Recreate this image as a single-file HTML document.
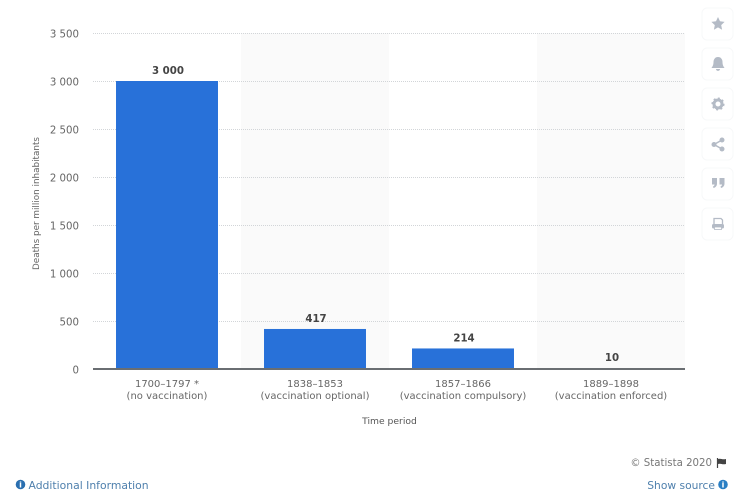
<!DOCTYPE html>
<html>
<head>
<meta charset="utf-8">
<style>
html,body{margin:0;padding:0;background:#fff;width:736px;height:504px;overflow:hidden}
svg{display:block;font-family:"DejaVu Sans","Liberation Sans",sans-serif;filter:blur(0.3px)}
</style>
</head>
<body>
<svg id="chart" width="736" height="504" viewBox="0 0 736 504" xmlns="http://www.w3.org/2000/svg">
  <g id="bands"></g>
  <g id="grid"></g>
  <g id="yticks"></g>
  <g id="bars"></g>
  <g id="values"></g>
  <line x1="93" x2="685" y1="369" y2="369" stroke="#6a6e72" stroke-width="2"/>
  <g id="xticks"></g>
  <text transform="translate(39,203.5) rotate(-90)" text-anchor="middle" font-size="8.8" fill="#666">Deaths per million inhabitants</text>
  <text x="389.5" y="424" text-anchor="middle" font-size="9.2" fill="#555">Time period</text>

  <g>
    <g>
      <rect x="702" y="8" width="31" height="32" rx="5" fill="#fff" stroke="#f7f8f9"/>
      <path d="M718 17l2 4.3 4.6.6-3.4 3.2.9 4.6-4.100-2.300-4.100 2.300.9-4.600-3.400-3.200 4.600-.6z" fill="#b4bbc6"/>
    </g>
    <g>
      <rect x="702" y="48" width="31" height="32" rx="5" fill="#fff" stroke="#f7f8f9"/>
      <path d="M718 57c3 0 4.500 2.500 4.500 5 0 3 1 4.500 2 6h-13c1-1.500 2-3 2-6 0-2.500 1.500-5 4.500-5zM716 69h4c0 2.500-4 2.500-4 0z" fill="#b4bbc6"/>
    </g>
    <g>
      <rect x="702" y="88" width="31" height="32" rx="5" fill="#fff" stroke="#f7f8f9"/>
      <circle cx="718" cy="104" r="4" fill="none" stroke="#b4bbc6" stroke-width="3"/>
      <circle cx="718" cy="104" r="5.800" fill="none" stroke="#b4bbc6" stroke-width="1.500" stroke-dasharray="2 2.500"/>
    </g>
    <g>
      <rect x="702" y="128" width="31" height="32" rx="5" fill="#fff" stroke="#f7f8f9"/>
      <path d="M722 140L714 144.500L722 149" fill="none" stroke="#b4bbc6" stroke-width="1.500"/>
      <circle cx="722" cy="140" r="2.500" fill="#b4bbc6"/>
      <circle cx="714" cy="144.500" r="2.500" fill="#b4bbc6"/>
      <circle cx="722" cy="149" r="2.500" fill="#b4bbc6"/>
    </g>
    <g>
      <rect x="702" y="168" width="31" height="32" rx="5" fill="#fff" stroke="#f7f8f9"/>
      <path d="M712 178h5v5.500c0 2.500-1.500 4-3.500 4.500l-.5-1.500c1-.4 1.500-1 1.500-2H712zM719.500 178h5v5.500c0 2.500-1.500 4-3.500 4.500l-.5-1.500c1-.4 1.500-1 1.500-2h-2.500z" fill="#b4bbc6"/>
    </g>
    <g>
      <rect x="702" y="208" width="31" height="32" rx="5" fill="#fff" stroke="#f7f8f9"/>
      <path d="M714 224v-5.500h7l1.500 1.500v4" fill="none" stroke="#b4bbc6" stroke-width="1.300"/>
      <rect x="712" y="224" width="12" height="4.500" rx="1.500" fill="#b4bbc6"/>
      <rect x="714.500" y="227" width="7" height="2.500" fill="#fff" stroke="#b4bbc6" stroke-width=".8"/>
    </g>
  </g>

  <g>
    <circle cx="20.500" cy="484.500" r="4.800" fill="#2a6fb0"/>
    <text x="20.500" y="487.500" text-anchor="middle" font-size="8" font-weight="bold" fill="#fff">i</text>
    <text x="28.500" y="489" font-size="10.8" fill="#4f80ad">Additional Information</text>
  </g>
  <text x="712" y="466" text-anchor="end" font-size="10.2" fill="#777">© Statista 2020</text>
  <g>
    <path d="M717.500 458v10" stroke="#444" stroke-width="1.200"/>
    <path d="M718 459c3-1 4 1 8 0v5c-4 1-5-1-8 0z" fill="#444"/>
  </g>
  <g>
    <text x="715" y="489" text-anchor="end" font-size="10.7" fill="#4f80ad">Show source</text>
    <circle cx="723" cy="484.500" r="4.800" fill="#2a7fc4"/>
    <text x="723" y="487.500" text-anchor="middle" font-size="8" font-weight="bold" fill="#fff">i</text>
  </g>
</svg>
<script>
var categoriesTop = ['1700–1797 *', '1838–1853', '1857–1866', '1889–1898'];
var categoriesBottom = ['(no vaccination)', '(vaccination optional)', '(vaccination compulsory)', '(vaccination enforced)'];
var deaths = [3000, 417, 214, 10];
var valueLabels = ['3 000', '417', '214', '10'];
var tickValues = [0, 500, 1000, 1500, 2000, 2500, 3000, 3500];
var tickLabels = ['0', '500', '1 000', '1 500', '2 000', '2 500', '3 000', '3 500'];

var NS = 'http://www.w3.org/2000/svg';
var plotLeft = 93, plotRight = 685, plotBottom = 369, plotTop = 33, yMax = 3500;
function yScale(v) { return plotBottom - (v / yMax) * (plotBottom - plotTop); }
function bandWidth() { return (plotRight - plotLeft) / categoriesTop.length; }
function xCenter(i) { return plotLeft + bandWidth() * (i + 0.5); }
var barWidth = bandWidth() * 0.689;
function make(tag, attrs, parent, text) {
  var el = document.createElementNS(NS, tag);
  for (var k in attrs) el.setAttribute(k, attrs[k]);
  if (text !== undefined) el.textContent = text;
  document.getElementById(parent).appendChild(el);
  return el;
}
categoriesTop.forEach(function (c, i) {
  if (i % 2 === 1) {
    var band = make('rect', {x: plotLeft + bandWidth() * i, y: plotTop, width: bandWidth(), height: plotBottom - plotTop, fill: '#fafafa'}, 'bands');
    
    
  }
});
tickValues.forEach(function (v, i) {
  if (v > 0) {
    var line = make('line', {x1: plotLeft, x2: plotRight, y1: yScale(v) + 0.5, y2: yScale(v) + 0.5, stroke: '#d2d5d8', 'stroke-width': 1, 'stroke-dasharray': '1 1'}, 'grid');
    
    
  }
  var label = make('text', {x: 79, y: yScale(v) + 4.500, 'text-anchor': 'end', 'font-size': 10.2, fill: '#666'}, 'yticks', tickLabels[i]);
  
  
});
deaths.forEach(function (d, i) {
  var bar = make('rect', {x: xCenter(i) - barWidth / 2, y: yScale(d), width: barWidth, height: plotBottom - yScale(d), fill: '#2871d9'}, 'bars');
  
  
  var val = make('text', {x: xCenter(i) + 1, y: yScale(d) - 7, 'text-anchor': 'middle', 'font-size': 10.2, 'font-weight': 'bold', fill: '#444'}, 'values', valueLabels[i]);
  
  
  var top = make('text', {x: xCenter(i), y: 387, 'text-anchor': 'middle', 'font-size': 10, fill: '#666'}, 'xticks', categoriesTop[i]);
  
  
  var bottom = make('text', {x: xCenter(i), y: 399, 'text-anchor': 'middle', 'font-size': 10, fill: '#666'}, 'xticks', categoriesBottom[i]);
  
  
});
</script>
</body>
</html>
